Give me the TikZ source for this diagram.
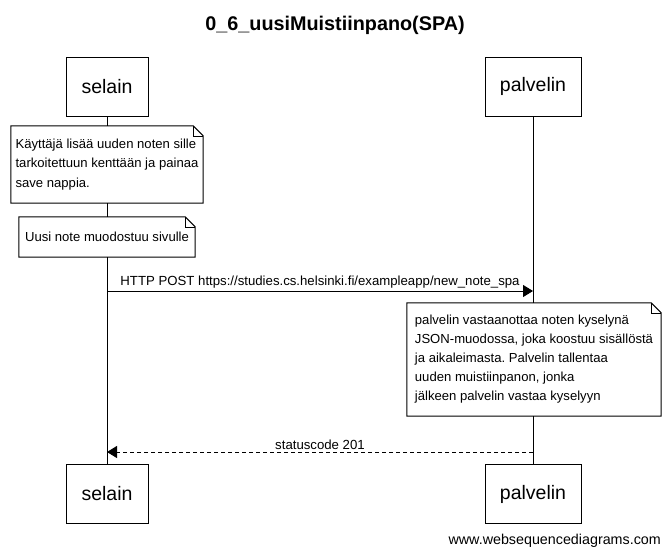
\documentclass[tikz,border=0pt]{standalone}
\usepackage{fontspec}
\setmainfont{Liberation Sans}
\usetikzlibrary{arrows.meta, positioning, calc}
\frenchspacing

\begin{document}
\begin{tikzpicture}[x=1pt, y=-1pt,
  actor/.style={draw, line width=1pt, fill=white, minimum height=59pt, inner sep=0pt,
    font=\fontsize{19.5}{22}\selectfont},
  notebox/.style={fill=white, inner sep=0pt, align=left,
    font=\fontsize{13.1}{19.5}\selectfont},
  msg/.style={line width=1pt, -{Triangle[length=10pt, width=12pt]}},
  reply/.style={msg, dash pattern=on 4pt off 3pt},
  msglabel/.style={font=\fontsize{13.2}{15}\selectfont, above, inner sep=2pt}]
\useasboundingbox[fill=white] (0,0) rectangle (669,557);

% title
\node[font=\fontsize{19.8}{22}\selectfont\bfseries] (title) at (335,25) {0\_6\_uusiMuistiinpano(SPA)};

% participants
\node[actor, minimum width=82pt] (selainTop) at (107,86.5) {selain};
\node[actor, minimum width=96pt] (palvelinTop) at (533,86.5) {palvelin};
\node[actor, minimum width=82pt] (selainBot) at (107,494) {selain};
\node[actor, minimum width=96pt] (palvelinBot) at (533,494) {palvelin};

% lifelines
\draw[line width=1pt] (selainTop) -- (selainBot);
\draw[line width=1pt] (palvelinTop) -- (palvelinBot);

% notes
\node[notebox, minimum width=192pt, minimum height=77pt] (noteA) at (107,164.5)
  {Käyttäjä lisää uuden noten sille\\tarkoitettuun kenttään ja painaa\\save nappia.};
\draw[line width=1pt] (noteA.north west) -- ([xshift=-10pt]noteA.north east)
  -- ([yshift=-10pt]noteA.north east) -- (noteA.south east) -- (noteA.south west) -- cycle;
\draw[line width=0.6pt] ([xshift=-10pt]noteA.north east) -- ([xshift=-10pt, yshift=-10pt]noteA.north east)
  -- ([yshift=-10pt]noteA.north east);

\node[notebox, minimum width=176pt, minimum height=40pt] (noteB) at (107,237)
  {Uusi note muodostuu sivulle};
\draw[line width=1pt] (noteB.north west) -- ([xshift=-10pt]noteB.north east)
  -- ([yshift=-10pt]noteB.north east) -- (noteB.south east) -- (noteB.south west) -- cycle;
\draw[line width=0.6pt] ([xshift=-10pt]noteB.north east) -- ([xshift=-10pt, yshift=-10pt]noteB.north east)
  -- ([yshift=-10pt]noteB.north east);

\node[notebox, minimum width=254pt, minimum height=113pt, font=\fontsize{13.1}{19}\selectfont] (noteC) at (534,359.5)
  {palvelin vastaanottaa noten kyselynä\\JSON-muodossa, joka koostuu sisällöstä\\ja aikaleimasta. Palvelin tallentaa\\uuden muistiinpanon, jonka\\jälkeen palvelin vastaa kyselyyn};
\draw[line width=1pt] (noteC.north west) -- ([xshift=-10pt]noteC.north east)
  -- ([yshift=-10pt]noteC.north east) -- (noteC.south east) -- (noteC.south west) -- cycle;
\draw[line width=0.6pt] ([xshift=-10pt]noteC.north east) -- ([xshift=-10pt, yshift=-10pt]noteC.north east)
  -- ([yshift=-10pt]noteC.north east);

% messages
\coordinate (postY) at (0,291);
\coordinate (replyY) at (0,452);
\draw[msg] (selainTop |- postY) -- node[msglabel] (postLabel)
  {HTTP POST https://studies.cs.helsinki.fi/exampleapp/new\_note\_spa} (palvelinTop |- postY);
\draw[reply] (palvelinTop |- replyY) -- node[msglabel] (replyLabel)
  {statuscode 201} (selainTop |- replyY);

% footer
\node[font=\fontsize{14.3}{16}\selectfont, anchor=east, inner sep=0pt] (footer) at (661,541)
  {www.websequencediagrams.com};
\end{tikzpicture}
\end{document}
